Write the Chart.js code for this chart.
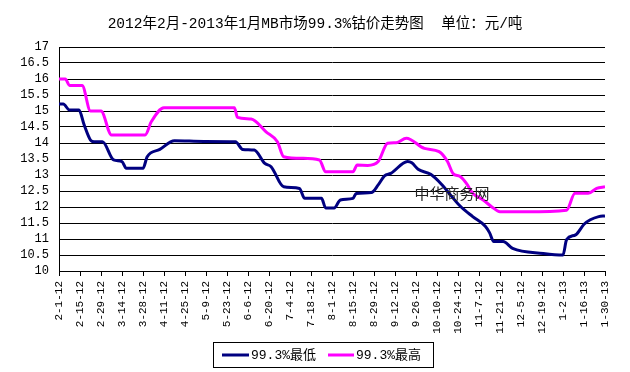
<!DOCTYPE html>
<html>
<head>
<meta charset="utf-8">
<script src="https://cdn.jsdelivr.net/npm/chart.js@4.4.0/dist/chart.umd.min.js"></script>
<style>
html,body{margin:0;padding:0;background:#fff;}
#c{display:block;}
</style>
</head>
<body>
<canvas id="c" width="630" height="372"></canvas>
<script>
// Tick labels (every 10 trading days)
const dateLabels = ["2-1-12","2-15-12","2-29-12","3-14-12","3-28-12","4-11-12","4-25-12","5-9-12","5-23-12","6-6-12","6-20-12","7-4-12","7-18-12","8-1-12","8-15-12","8-29-12","9-12-12","9-26-12","10-10-12","10-24-12","11-7-12","11-21-12","12-5-12","12-19-12","1-2-13","1-16-13","1-30-13"];
const yTicks = [10,10.5,11,11.5,12,12.5,13,13.5,14,14.5,15,15.5,16,16.5,17];

// Series: trading-day index and price
const lowIdx = [0,2,5,9.5,12,15,16.7,20.7,26,30,32,40,42,48,55,69,84,87.5,93,98,101,107,114.5,117,125,127,131,134,140,141.5,148.7,152,155,158,166,168,171,177,182,191,197,203,205,207,211.5,216,230.6,240,241.7,246,250,253,257,260];
const lowVal = [15.22,15.22,15.03,15.03,14.56,14.09,14.04,14.04,13.47,13.42,13.21,13.21,13.57,13.8,14.07,14.05,14.04,13.8,13.78,13.36,13.26,12.63,12.58,12.27,12.27,11.97,11.97,12.22,12.27,12.42,12.45,12.69,12.97,13.05,13.42,13.38,13.18,13.02,12.72,12.03,11.7,11.4,11.2,10.92,10.92,10.71,10.55,10.5,10.98,11.13,11.46,11.6,11.7,11.72];

const highIdx = [0,3,5,11,15,20,25,41,44,50,83.5,85,91.5,98.6,104,107,116,124,127,140,142,147,152,156.5,160.6,165.4,174,181,185,187.6,191,194,197,202,206,210,222.6,241.7,245.7,252,256,260];
const highVal = [16.0,16.0,15.8,15.8,15.0,15.0,14.25,14.25,14.67,15.1,15.1,14.8,14.75,14.35,14.04,13.57,13.52,13.47,13.1,13.1,13.31,13.3,13.42,13.99,14.01,14.15,13.83,13.73,13.42,13.05,12.95,12.74,12.43,12.22,12.01,11.85,11.85,11.9,12.43,12.43,12.58,12.63];

const seriesNames = ["99.3%最低","99.3%最高"];
const seriesColors = ["#000080","#FF00FF"];
const titleText = "2012年2月-2013年1月MB市场99.3%钴价走势图  单位：元/吨";
const watermark = "中华商务网";

const FONT = "'Liberation Mono','Noto Sans CJK SC',monospace";

const toPts = (xs, ys) => xs.map((x, i) => ({x: x, y: ys[i]}));

const decor = {
  id: 'decor',
  afterDatasetsDraw(chart) {
    const ctx = chart.ctx;
    ctx.save();
    ctx.fillStyle = '#222';
    ctx.font = "15px 'Noto Sans CJK SC'";
    ctx.textAlign = 'center';
    ctx.textBaseline = 'middle';
    ctx.fillText(watermark, 452, 193);
    ctx.restore();
  },
  afterDraw(chart) {
    const ctx = chart.ctx;
    ctx.save();
    ctx.fillStyle = '#000';
    ctx.font = "14.5px " + FONT;
    ctx.textAlign = 'center';
    ctx.textBaseline = 'middle';
    ctx.fillText(titleText, 315, 24);
    ctx.strokeStyle = '#000';
    ctx.lineWidth = 1;
    ctx.strokeRect(213.5, 342.5, 220, 25);
    ctx.font = "13px " + FONT;
    ctx.textAlign = 'left';
    const items = [[222, 249, 251], [328, 354, 356]];
    items.forEach((it, i) => {
      ctx.strokeStyle = seriesColors[i];
      ctx.lineWidth = 3;
      ctx.beginPath();
      ctx.moveTo(it[0], 355);
      ctx.lineTo(it[1], 355);
      ctx.stroke();
      ctx.fillStyle = '#000';
      ctx.fillText(seriesNames[i], it[2], 355.5);
    });
    ctx.restore();
  }
};

new Chart(document.getElementById('c'), {
  type: 'line',
  data: {
    datasets: [
      {label: seriesNames[0], data: toPts(lowIdx, lowVal), borderColor: seriesColors[0], borderWidth: 3, pointRadius: 0, cubicInterpolationMode: 'monotone', fill: false},
      {label: seriesNames[1], data: toPts(highIdx, highVal), borderColor: seriesColors[1], borderWidth: 3, pointRadius: 0, cubicInterpolationMode: 'monotone', fill: false}
    ]
  },
  options: {
    responsive: false,
    animation: false,
    devicePixelRatio: 1,
    layout: {padding: {left: 0, right: 25, top: 47, bottom: 0}},
    plugins: {legend: {display: false}, title: {display: false}, tooltip: {enabled: false}},
    scales: {
      x: {
        type: 'linear', min: 0, max: 260,
        afterFit(s) { s.height = 101; },
        afterBuildTicks(s) { s.ticks = dateLabels.map((_, i) => ({value: i * 10})); },
        grid: {drawOnChartArea: false, drawTicks: true, tickLength: 5, color: '#000', lineWidth: 1},
        border: {display: true, color: '#000', width: 1},
        ticks: {
          autoSkip: false, maxRotation: 90, minRotation: 90, padding: 5,
          color: '#000', font: {family: FONT, size: 11},
          callback: (v) => dateLabels[Math.round(v / 10)]
        }
      },
      y: {
        min: 10, max: 17,
        afterFit(s) { s.width = 59; },
        afterBuildTicks(s) { s.ticks = yTicks.map(v => ({value: v})); },
        grid: {drawTicks: false, color: '#000', lineWidth: 1},
        border: {display: true, color: '#000', width: 1},
        ticks: {autoSkip: false, padding: 10, color: '#000', font: {family: FONT, size: 12}, callback: (v) => String(v)}
      }
    }
  },
  plugins: [decor]
});
</script>
</body>
</html>
